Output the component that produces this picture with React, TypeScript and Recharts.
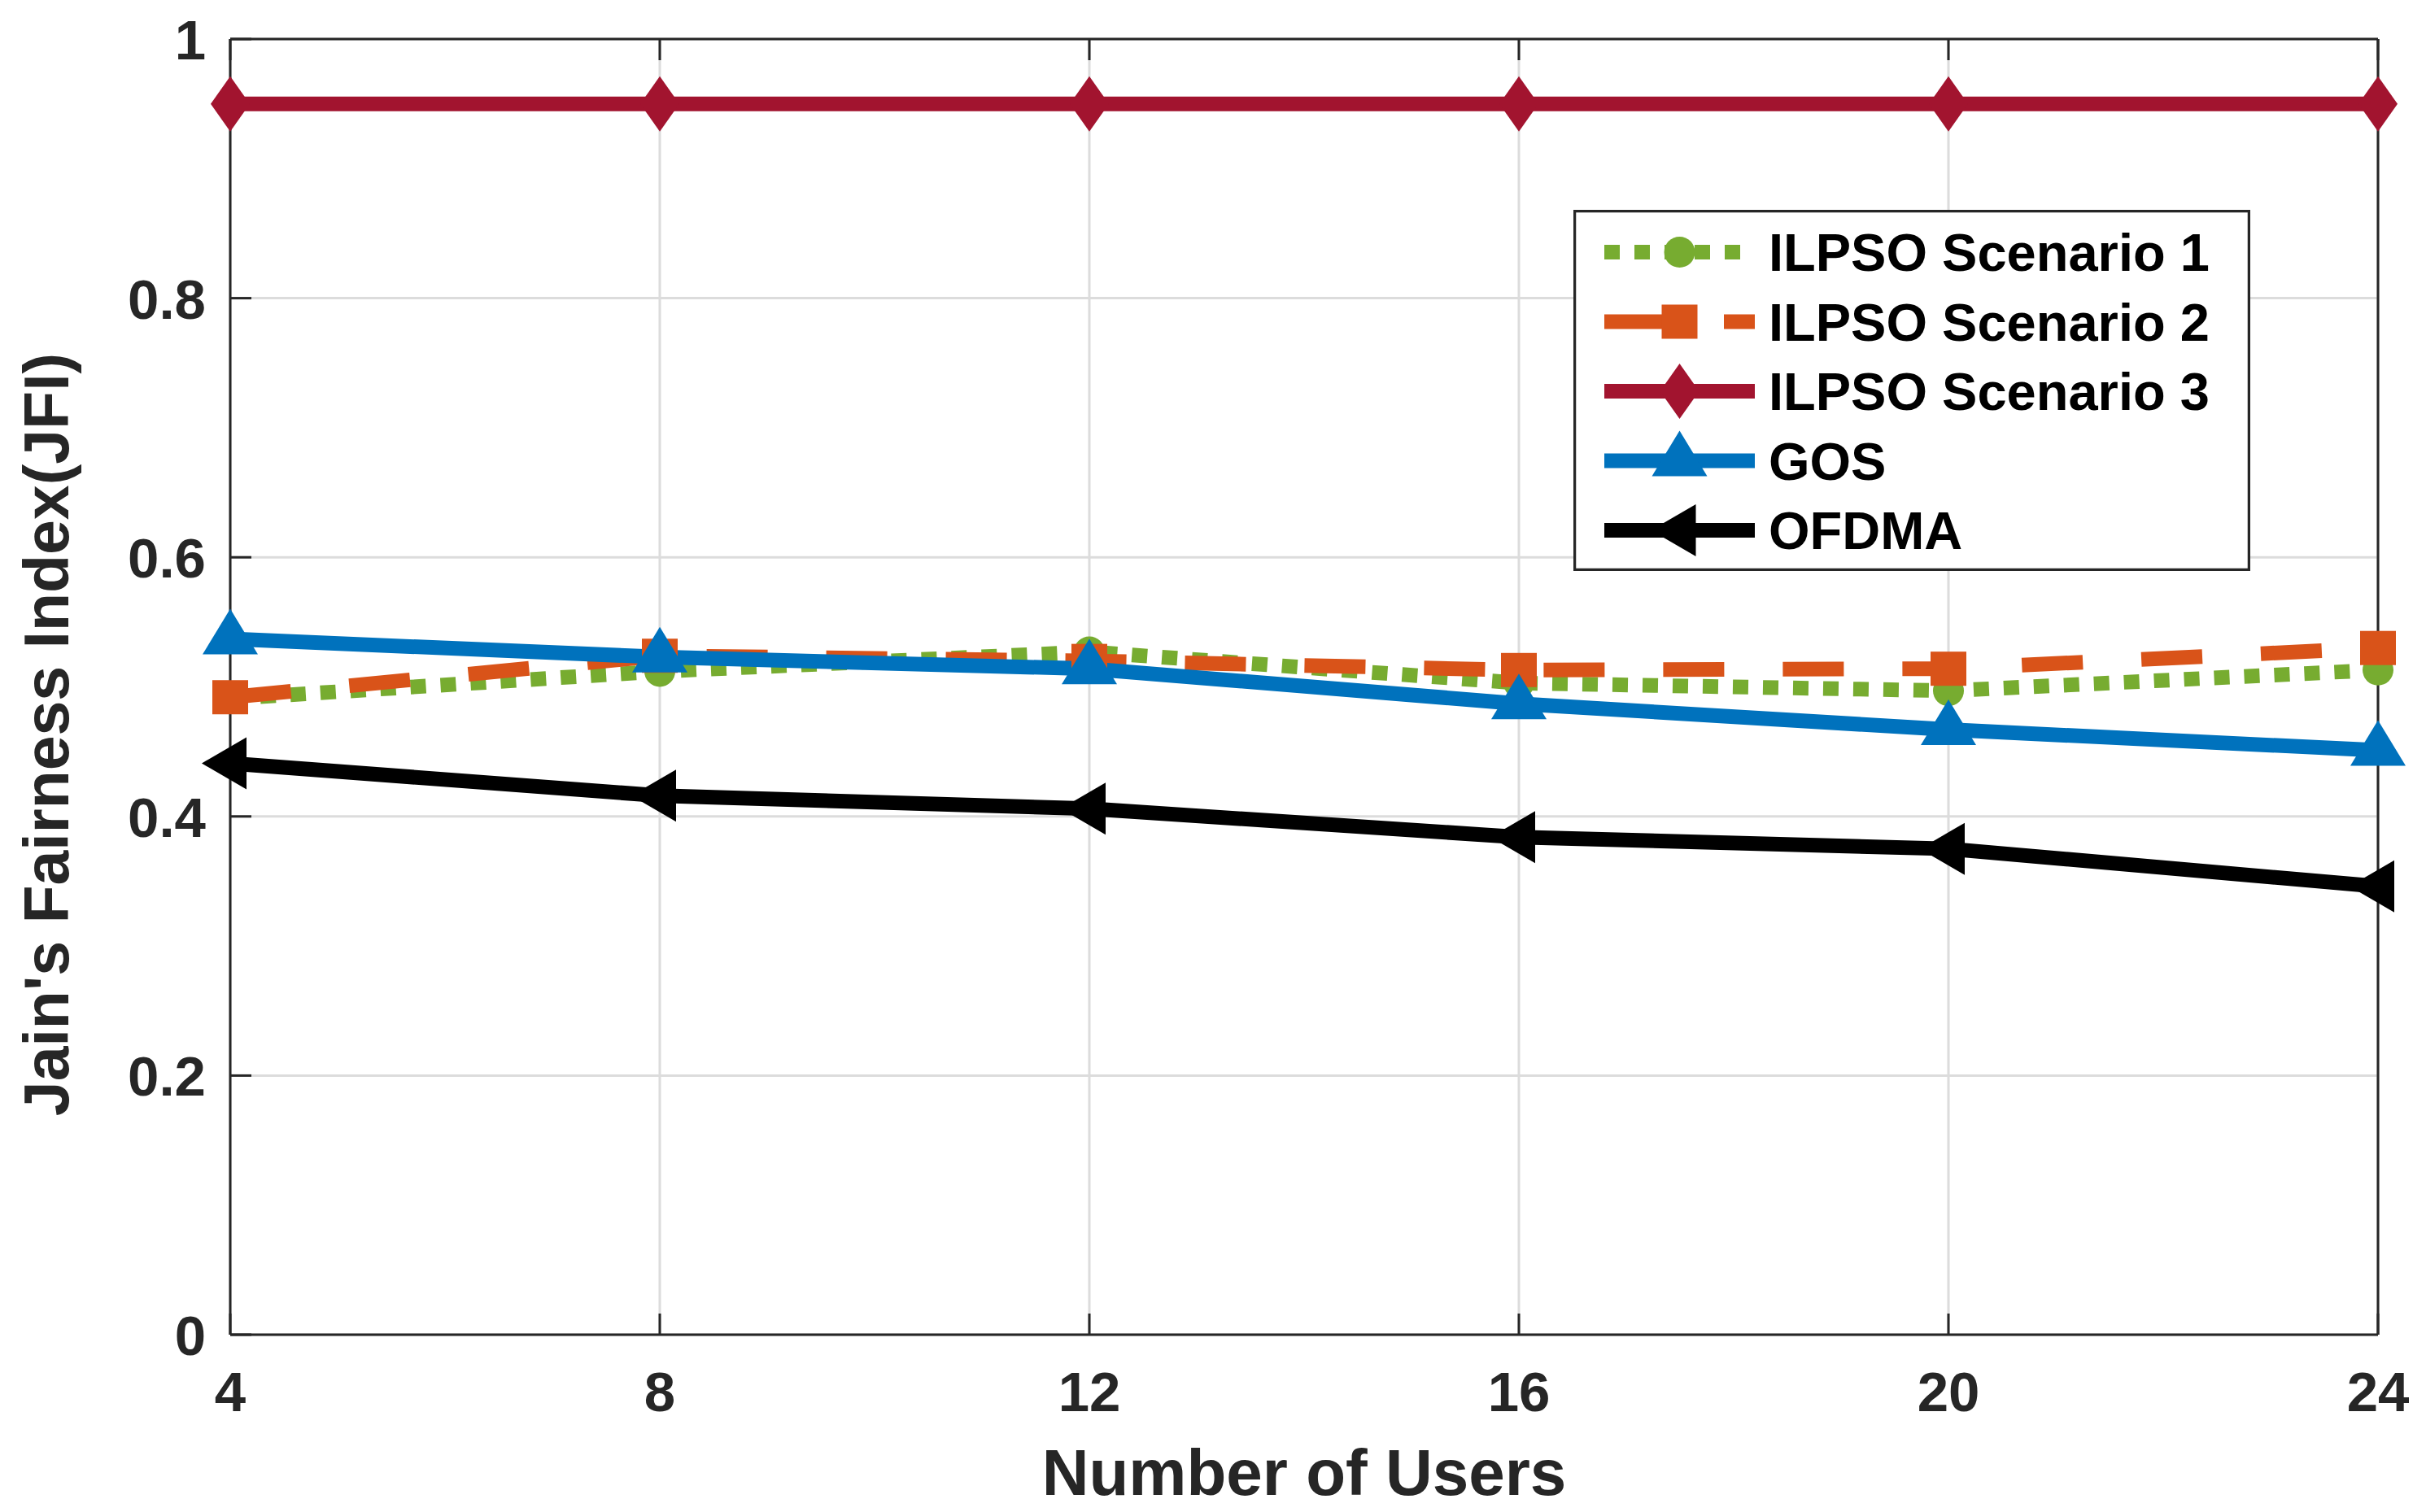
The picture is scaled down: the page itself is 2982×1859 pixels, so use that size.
import React from 'react';
import { LineChart, Line, XAxis, YAxis, CartesianGrid, Legend } from 'recharts';

const users = [4, 8, 12, 16, 20, 24];
const scenario1 = [0.491, 0.512, 0.527, 0.503, 0.497, 0.513];
const scenario2 = [0.492, 0.524, 0.520, 0.513, 0.514, 0.530];
const scenario3 = [0.95, 0.95, 0.95, 0.95, 0.95, 0.95];
const gos = [0.537, 0.523, 0.514, 0.487, 0.467, 0.451];
const ofdma = [0.441, 0.416, 0.406, 0.384, 0.375, 0.346];

const xTicks = [4, 8, 12, 16, 20, 24];
const yTicks = [0, 0.2, 0.4, 0.6, 0.8, 1];

const names = ['ILPSO Scenario 1', 'ILPSO Scenario 2', 'ILPSO Scenario 3', 'GOS', 'OFDMA'];
const keys = ['s1', 's2', 's3', 'gos', 'ofdma'];
const colors = ['#77AC30', '#D95319', '#A2142F', '#0072BD', '#000000'];
const dashes = ['19 18', '75 72', undefined, undefined, undefined];
const shapes = ['circle', 'square', 'diamond', 'up', 'left'];

const data = users.map((u, i) => ({
  users: u,
  s1: scenario1[i],
  s2: scenario2[i],
  s3: scenario3[i],
  gos: gos[i],
  ofdma: ofdma[i],
}));

const W = 2982;
const H = 1859;
const FONT = '"Liberation Sans", Arial, Helvetica, sans-serif';
const AX = '#262626';
const LW = 18;

function marker(shape: string, cx: number, cy: number, color: string, key?: string) {
  if (cx == null || cy == null) return <g key={key} />;
  switch (shape) {
    case 'circle':
      return <circle key={key} cx={cx} cy={cy} r={19} fill={color} />;
    case 'square':
      return <rect key={key} x={cx - 22} y={cy - 21} width={44} height={42} fill={color} />;
    case 'diamond':
      return (
        <path key={key} d={`M${cx},${cy - 34} L${cx + 24},${cy} L${cx},${cy + 34} L${cx - 24},${cy} Z`} fill={color} />
      );
    case 'up':
      return (
        <path key={key} d={`M${cx},${cy - 37} L${cx + 34},${cy + 19} L${cx - 34},${cy + 19} Z`} fill={color} />
      );
    case 'left':
    default:
      return (
        <path key={key} d={`M${cx - 35},${cy} L${cx + 20},${cy - 32} L${cx + 20},${cy + 32} Z`} fill={color} />
      );
  }
}

const BottomTick = (props: any) => {
  const { x, y, payload } = props;
  return (
    <g>
      <line x1={x} x2={x} y1={y} y2={y - 26} stroke={AX} strokeWidth={3} />
      <text x={x} y={y + 94} textAnchor="middle" fontFamily={FONT} fontWeight="bold" fontSize={69} fill={AX}>
        {payload.value}
      </text>
    </g>
  );
};

const TopTick = (props: any) => {
  const { x, y } = props;
  return <line x1={x} x2={x} y1={y} y2={y + 26} stroke={AX} strokeWidth={3} />;
};

const LeftTick = (props: any) => {
  const { x, y, payload } = props;
  return (
    <g>
      <line x1={x} x2={x + 26} y1={y} y2={y} stroke={AX} strokeWidth={3} />
      <text x={x - 30} y={y + 25} textAnchor="end" fontFamily={FONT} fontWeight="bold" fontSize={69} fill={AX}>
        {payload.value}
      </text>
    </g>
  );
};

const RightTick = (props: any) => {
  const { x, y } = props;
  return <line x1={x} x2={x - 26} y1={y} y2={y} stroke={AX} strokeWidth={3} />;
};

const LegendBox = () => (
  <svg width={832} height={444} style={{ display: 'block' }}>
    <rect x={1.5} y={1.5} width={829} height={441} fill="#ffffff" stroke={AX} strokeWidth={3.5} />
    {names.map((n, i) => {
      const cy = 52 + i * 85.5;
      return (
        <g key={n}>
          <line x1={38} x2={223} y1={cy} y2={cy} stroke={colors[i]} strokeWidth={LW} strokeDasharray={dashes[i]} />
          {marker(shapes[i], 130.5, cy, colors[i])}
          <text x={240} y={cy + 23} fontFamily={FONT} fontWeight="bold" fontSize={65} fill="#000">
            {n}
          </text>
        </g>
      );
    })}
  </svg>
);

export default function App() {
  return (
    <div style={{ position: 'absolute', left: 0, top: 0, width: W, height: H, background: '#fff' }}>
      <LineChart width={W} height={H} data={data} margin={{ top: 0, right: 0, bottom: 0, left: 0 }}>
        <CartesianGrid stroke="#dcdcdc" strokeWidth={3} />
        <XAxis
          dataKey="users"
          type="number"
          domain={[4, 24]}
          ticks={xTicks}
          height={218}
          tickSize={0}
          tickMargin={0}
          tickLine={false}
          axisLine={{ stroke: AX, strokeWidth: 3 }}
          tick={<BottomTick />}
          interval={0}
        />
        <XAxis
          xAxisId="top"
          orientation="top"
          type="number"
          dataKey="users"
          domain={[4, 24]}
          ticks={xTicks}
          height={48}
          tickSize={0}
          tickMargin={0}
          tickLine={false}
          axisLine={{ stroke: AX, strokeWidth: 3 }}
          tick={<TopTick />}
          interval={0}
        />
        <YAxis
          type="number"
          domain={[0, 1]}
          ticks={yTicks}
          width={283}
          tickSize={0}
          tickMargin={0}
          tickLine={false}
          axisLine={{ stroke: AX, strokeWidth: 3 }}
          tick={<LeftTick />}
          interval={0}
        />
        <YAxis
          yAxisId="right"
          orientation="right"
          type="number"
          domain={[0, 1]}
          ticks={yTicks}
          width={59}
          tickSize={0}
          tickMargin={0}
          tickLine={false}
          axisLine={{ stroke: AX, strokeWidth: 3 }}
          tick={<RightTick />}
          interval={0}
        />
        <Legend
          layout="vertical"
          align="center"
          verticalAlign="middle"
          content={() => <LegendBox />}
          wrapperStyle={{ position: 'absolute', left: 1934, top: 258, width: 832, height: 444 }}
        />
        {keys.map((k, i) => (
          <Line
            key={k}
            dataKey={k}
            name={names[i]}
            type="linear"
            stroke={colors[i]}
            strokeWidth={LW}
            strokeDasharray={dashes[i]}
            isAnimationActive={false}
            activeDot={false}
            dot={(p: any) => marker(shapes[i], p.cx, p.cy, colors[i], `${k}-${p.index}`)}
          />
        ))}
      </LineChart>
      <svg
        width={W}
        height={H}
        style={{ position: 'absolute', left: 0, top: 0, pointerEvents: 'none' }}
      >
        <text x={1603} y={1838} textAnchor="middle" fontFamily={FONT} fontWeight="bold" fontSize={80} fill={AX}>
          Number of Users
        </text>
        <text
          x={0}
          y={0}
          transform="translate(84,903) rotate(-90)"
          textAnchor="middle"
          fontFamily={FONT}
          fontWeight="bold"
          fontSize={77}
          fill={AX}
        >
          Jain's Fairness Index(JFI)
        </text>
      </svg>
    </div>
  );
}
